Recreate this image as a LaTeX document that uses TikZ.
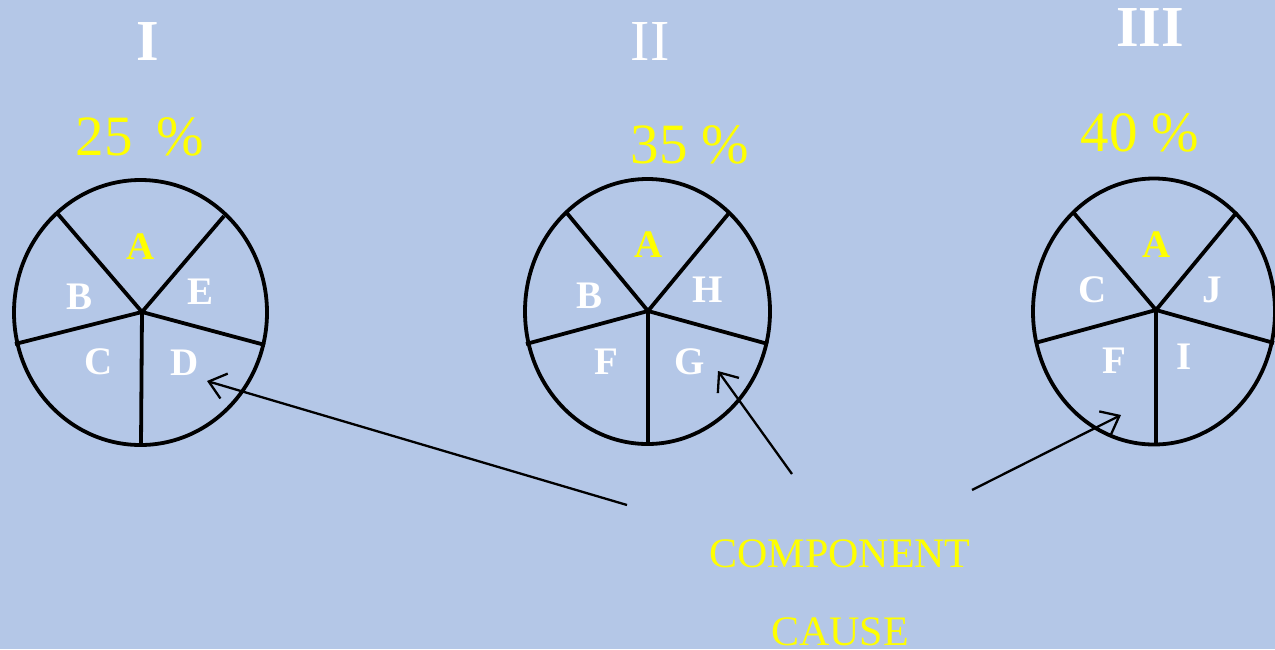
\documentclass[tikz,border=0pt]{standalone}
\usepackage{fontspec}
\setmainfont{Liberation Serif}
\usetikzlibrary{arrows.meta}
\definecolor{bgblue}{RGB}{180,199,231}
\definecolor{txtyellow}{RGB}{255,255,0}
\tikzset{
  pie/.style={draw=black,line width=3.8pt},
  spoke/.style={draw=black,line width=3.8pt},
  numeral/.style={text=white,font=\fontsize{58}{60}\selectfont,inner sep=0pt},
  pct/.style={text=txtyellow,font=\fontsize{57}{59}\selectfont,inner sep=0pt},
  seg/.style={text=white,font=\fontsize{39}{42}\selectfont\bfseries,inner sep=0pt},
  sega/.style={seg,text=txtyellow},
  caption/.style={text=txtyellow,font=\fontsize{42}{44}\selectfont,inner sep=0pt},
  pointer/.style={draw=black,line width=2.3pt,-{Straight Barb[length=16pt,width=26pt,line width=2.3pt]}}
}
\begin{document}
\begin{tikzpicture}[x=1pt,y=-1pt]
\fill[bgblue] (0,0) rectangle (1275,649);
\useasboundingbox (0,0) rectangle (1275,649);

% titles
\node[numeral,font=\fontsize{58}{60}\selectfont\bfseries] (t1) at (148,42) {I};
\node[numeral] (t2) at (650,42) {II};
\node[numeral,font=\fontsize{58}{60}\selectfont\bfseries] (t3) at (1150,28) {III};
\node[pct] (p1) at (140,137) {25\ \,\%};
\node[pct] (p2) at (690,145) {35 \%};
\node[pct] (p3) at (1140,133) {40 \%};

% pie I
\coordinate (h1) at (142,312);
\draw[pie] (140.5,312.5) ellipse [x radius=126.5, y radius=132.5];
\coordinate (a1) at (57,213);
\coordinate (b1) at (224,216);
\coordinate (c1) at (15,344);
\coordinate (d1) at (265,345);
\coordinate (e1) at (141,445);
\draw[spoke] (a1) -- (h1) -- (b1);
\draw[spoke] (c1) -- (h1) -- (d1);
\draw[spoke] (h1) -- (e1);
\node[sega] (s1A) at (141,247) {A};
\node[seg] (s1B) at (80,297) {B};
\node[seg] (s1E) at (201,292) {E};
\node[seg] (s1C) at (99,362) {C};
\node[seg] (s1D) at (185,363) {D};

% pie II
\coordinate (h2) at (648,311);
\draw[pie] (647.5,311.5) ellipse [x radius=122.5, y radius=132.5];
\coordinate (a2) at (566,212);
\coordinate (b2) at (729,213);
\coordinate (c2) at (526,344);
\coordinate (d2) at (768,344);
\coordinate (e2) at (648,445);
\draw[spoke] (a2) -- (h2) -- (b2);
\draw[spoke] (c2) -- (h2) -- (d2);
\draw[spoke] (h2) -- (e2);
\node[sega] (s2A) at (649,245) {A};
\node[seg] (s2B) at (590,296) {B};
\node[seg] (s2H) at (708,290) {H};
\node[seg] (s2F) at (606,362) {F};
\node[seg] (s2G) at (690,362) {G};

% pie III
\coordinate (h3) at (1156,310);
\draw[pie] (1154,311.5) ellipse [x radius=121, y radius=133];
\coordinate (a3) at (1073,212);
\coordinate (b3) at (1237,212);
\coordinate (c3) at (1035,343);
\coordinate (d3) at (1274,343);
\coordinate (e3) at (1156,445);
\draw[spoke] (a3) -- (h3) -- (b3);
\draw[spoke] (c3) -- (h3) -- (d3);
\draw[spoke] (h3) -- (e3);
\node[sega] (s3A) at (1157,245) {A};
\node[seg] (s3C) at (1093,290) {C};
\node[seg] (s3J) at (1212,290) {J};
\node[seg] (s3F) at (1114,361) {F};
\node[seg] (s3I) at (1184,357) {I};

% caption
\node[caption] (cap1) at (840,554) {COMPONENT};
\node[caption] (cap2) at (840,632) {CAUSE};

% pointers
\coordinate (q1) at (627,505);
\coordinate (r1) at (207,381);
\coordinate (q2) at (792,474);
\coordinate (r2) at (718,371);
\coordinate (q3) at (972,490);
\coordinate (r3) at (1121,415);
\draw[pointer] (q1) -- (r1);
\draw[pointer] (q2) -- (r2);
\draw[pointer] (q3) -- (r3);
\end{tikzpicture}
\end{document}
